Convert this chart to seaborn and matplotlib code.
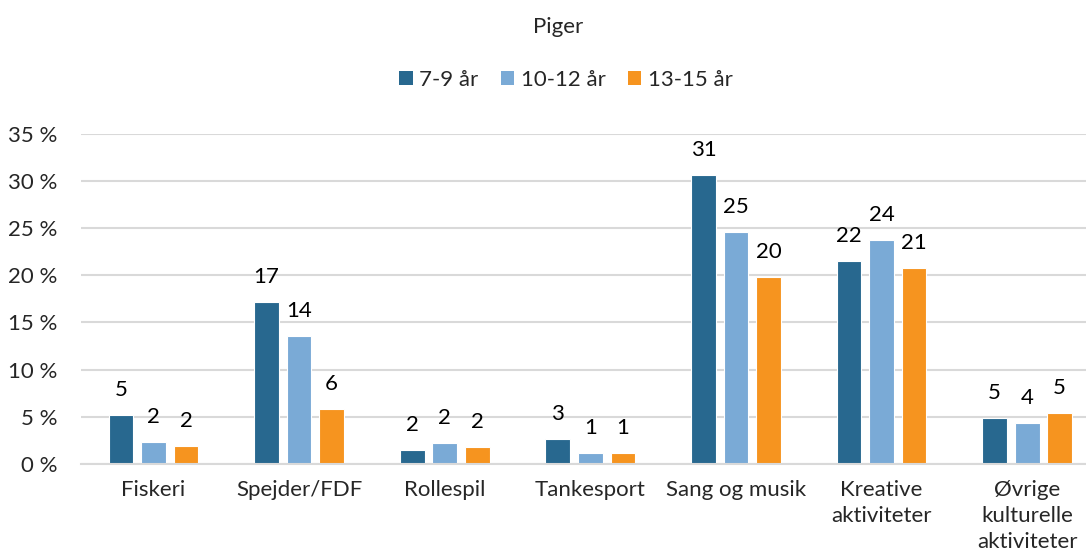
import pandas as pd
import matplotlib.pyplot as plt
import seaborn as sns

categories = ["Fiskeri", "Spejder/FDF", "Rollespil", "Tankesport", "Sang og musik",
              "Kreative\naktiviteter", "Øvrige\nkulturelle\naktiviteter"]
groups = ["7-9 år", "10-12 år", "13-15 år"]
age_7_9 = [5.2, 17.2, 1.5, 2.6, 30.6, 21.5, 4.8]
age_10_12 = [2.3, 13.6, 2.2, 1.1, 24.6, 23.7, 4.3]
age_13_15 = [1.9, 5.8, 1.8, 1.1, 19.8, 20.8, 5.4]
colors = ["#28688F", "#7AAAD6", "#F6941F"]

rows = []
for grp, vals in zip(groups, [age_7_9, age_10_12, age_13_15]):
    for cat, v in zip(categories, vals):
        rows.append({"Aktivitet": cat, "Alder": grp, "Andel": v})
df = pd.DataFrame(rows)

sns.set_theme(style="white")
plt.rcParams["font.family"] = ["Lato", "DejaVu Sans"]
FS = 16

fig = plt.figure(figsize=(10.86, 5.6), dpi=100)
ax = fig.add_axes([80.7 / 1086, 96.3 / 560, (1100 - 80.7) / 1086, (463.7 - 134) / 560])

sns.barplot(data=df, x="Aktivitet", y="Andel", hue="Alder", order=categories,
            hue_order=groups, palette=colors, saturation=1, width=0.67, gap=0.24,
            edgecolor="white", linewidth=0.8, ax=ax, legend=True)

# value labels above the bars
for container in ax.containers:
    for bar in container:
        h = bar.get_height()
        ax.annotate("{:.0f}".format(h), (bar.get_x() + bar.get_width() / 2, h),
                    xytext=(0, 18), textcoords="offset points",
                    ha="center", va="center", fontsize=FS, color="#000000")

ax.set_ylim(0, 35)
ax.set_xlim(-0.5, len(categories) - 0.5)
ax.set_yticks(range(0, 36, 5))
ax.set_yticklabels(["{} %".format(v) for v in range(0, 36, 5)], fontsize=FS)
ax.yaxis.grid(True, color="#D9D9D9", linewidth=1.5)
ax.set_axisbelow(True)
for s in ["top", "right", "left"]:
    ax.spines[s].set_visible(False)
ax.spines["bottom"].set_color("#D9D9D9")
ax.spines["bottom"].set_linewidth(1.5)
ax.tick_params(axis="y", length=0, pad=17)
ax.tick_params(axis="x", length=0, pad=12, labelsize=FS)
ax.set_xlabel("")
ax.set_ylabel("")
for lbl in ax.get_xticklabels():
    lbl.set_verticalalignment("top")
    lbl.set_linespacing(1.35)

leg = ax.legend(loc="center", bbox_to_anchor=(566 / 1086, 1 - 80 / 560),
                bbox_transform=fig.transFigure, ncol=3, frameon=False,
                fontsize=FS, handlelength=0.6, handleheight=0.6,
                handletextpad=0.3, columnspacing=1.0)
for h in leg.legend_handles:
    h.set_edgecolor("none")

fig.text(558 / 1086, 1 - 27 / 560, "Piger", ha="center", va="center", fontsize=FS)

fig.savefig("out.png", dpi=100)
